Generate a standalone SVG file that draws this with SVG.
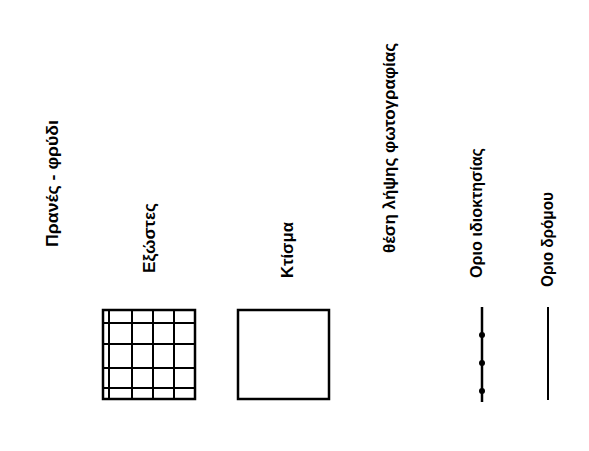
<svg xmlns="http://www.w3.org/2000/svg" width="589" height="451" viewBox="0 0 589 451">
<style>
text{font-family:"Liberation Sans","DejaVu Sans",sans-serif;font-size:16px;font-weight:bold;fill:#000}
.o{fill:none;stroke:#000;stroke-width:2.5}
.g{fill:none;stroke:#000;stroke-width:2}
</style>
<rect width="589" height="451" fill="#fff"/>
<g id="slope">
<text transform="translate(58,247) rotate(-90)" textLength="127" lengthAdjust="spacingAndGlyphs">Πρανές - φρύδι</text>
</g>
<g id="balconies">
<text transform="translate(155,273) rotate(-90)" textLength="70" lengthAdjust="spacingAndGlyphs">Εξώστες</text>
<rect class="o" x="103" y="310" width="92" height="89"/>
<path class="g" d="M109 310V399M132 310V399M153 310V399M174 310V399M103 323H195M103 344H195M103 368H195M103 388H195"/>
</g>
<g id="building">
<text transform="translate(293,278) rotate(-90)" textLength="56" lengthAdjust="spacingAndGlyphs">Κτίσμα</text>
<rect class="o" x="238" y="310" width="91" height="89"/>
</g>
<g id="photo">
<text transform="translate(395,253) rotate(-90)" textLength="210" lengthAdjust="spacingAndGlyphs">θέση λήψης φωτογραφίας</text>
</g>
<g id="property">
<text transform="translate(482,278) rotate(-90)" textLength="130" lengthAdjust="spacingAndGlyphs">Οριο ιδιοκτησίας</text>
<line class="o" x1="482" y1="307" x2="482" y2="402"/>
<circle cx="482" cy="335" r="3"/>
<circle cx="482" cy="363" r="3"/>
<circle cx="482" cy="391" r="3"/>
</g>
<g id="road">
<text transform="translate(553,287) rotate(-90)" textLength="95" lengthAdjust="spacingAndGlyphs">Οριο δρόμου</text>
<line class="g" x1="548" y1="307" x2="548" y2="400"/>
</g>
<g id="connectors"></g>
</svg>
